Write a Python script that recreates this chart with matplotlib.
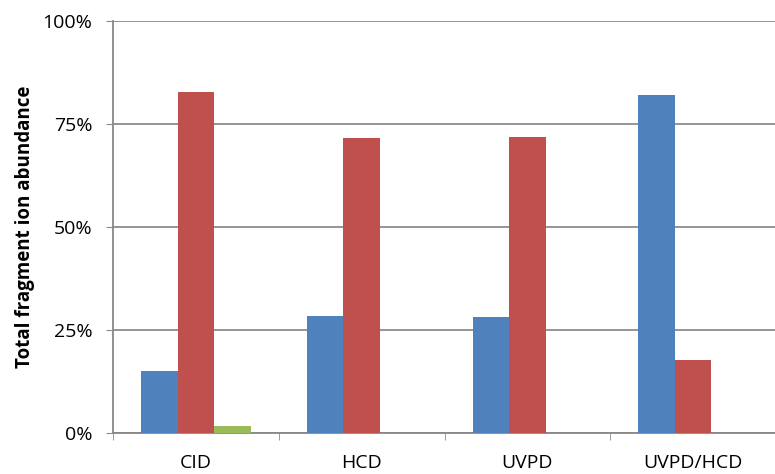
import matplotlib.pyplot as plt
import numpy as np

categories = ["CID", "HCD", "UVPD", "UVPD/HCD"]
series_blue = [15.0, 28.3, 28.1, 82.1]
series_red = [82.7, 71.5, 71.8, 17.8]
series_green = [1.8, 0.0, 0.0, 0.0]
yticks = [0, 25, 50, 75, 100]
ytick_labels = ["0%", "25%", "50%", "75%", "100%"]

plt.rcParams['font.family'] = ['Open Sans', 'DejaVu Sans']

fig = plt.figure(figsize=(7.75, 4.74), dpi=100)
ax = fig.add_axes([113 / 775, 41 / 474, 663 / 775, 412 / 474])

x = np.arange(len(categories))
w = 0.22
ax.bar(x - w, series_blue, w, color="#4F81BD", zorder=3)
ax.bar(x, series_red, w, color="#C0504D", zorder=3)
ax.bar(x + w, series_green, w, color="#9BBB59", zorder=3)

ax.set_xlim(-0.5, len(categories) - 0.5)
ax.set_ylim(0, 100)
ax.set_yticks(yticks)
ax.set_yticklabels(ytick_labels, fontsize=14)
ax.set_xticks(x)
ax.set_xticklabels(categories, fontsize=14)
ax.set_xticks(np.arange(len(categories) + 1) - 0.5, minor=True)
ax.tick_params(axis="x", which="major", length=0, pad=15)
ax.tick_params(axis="x", which="minor", length=5, color="#888888")
ax.tick_params(axis="y", length=5, color="#888888", pad=10)

ax.yaxis.grid(True, color="#8c8c8c", linewidth=1.3, zorder=0)
for s in ["top", "right"]:
    ax.spines[s].set_visible(False)
for s in ["left", "bottom"]:
    ax.spines[s].set_color("#888888")
    ax.spines[s].set_linewidth(1.3)

ax.set_ylabel("Total fragment ion abundance", fontsize=13.5, fontweight="bold", labelpad=5.5)

fig.savefig("out.png", dpi=100)
